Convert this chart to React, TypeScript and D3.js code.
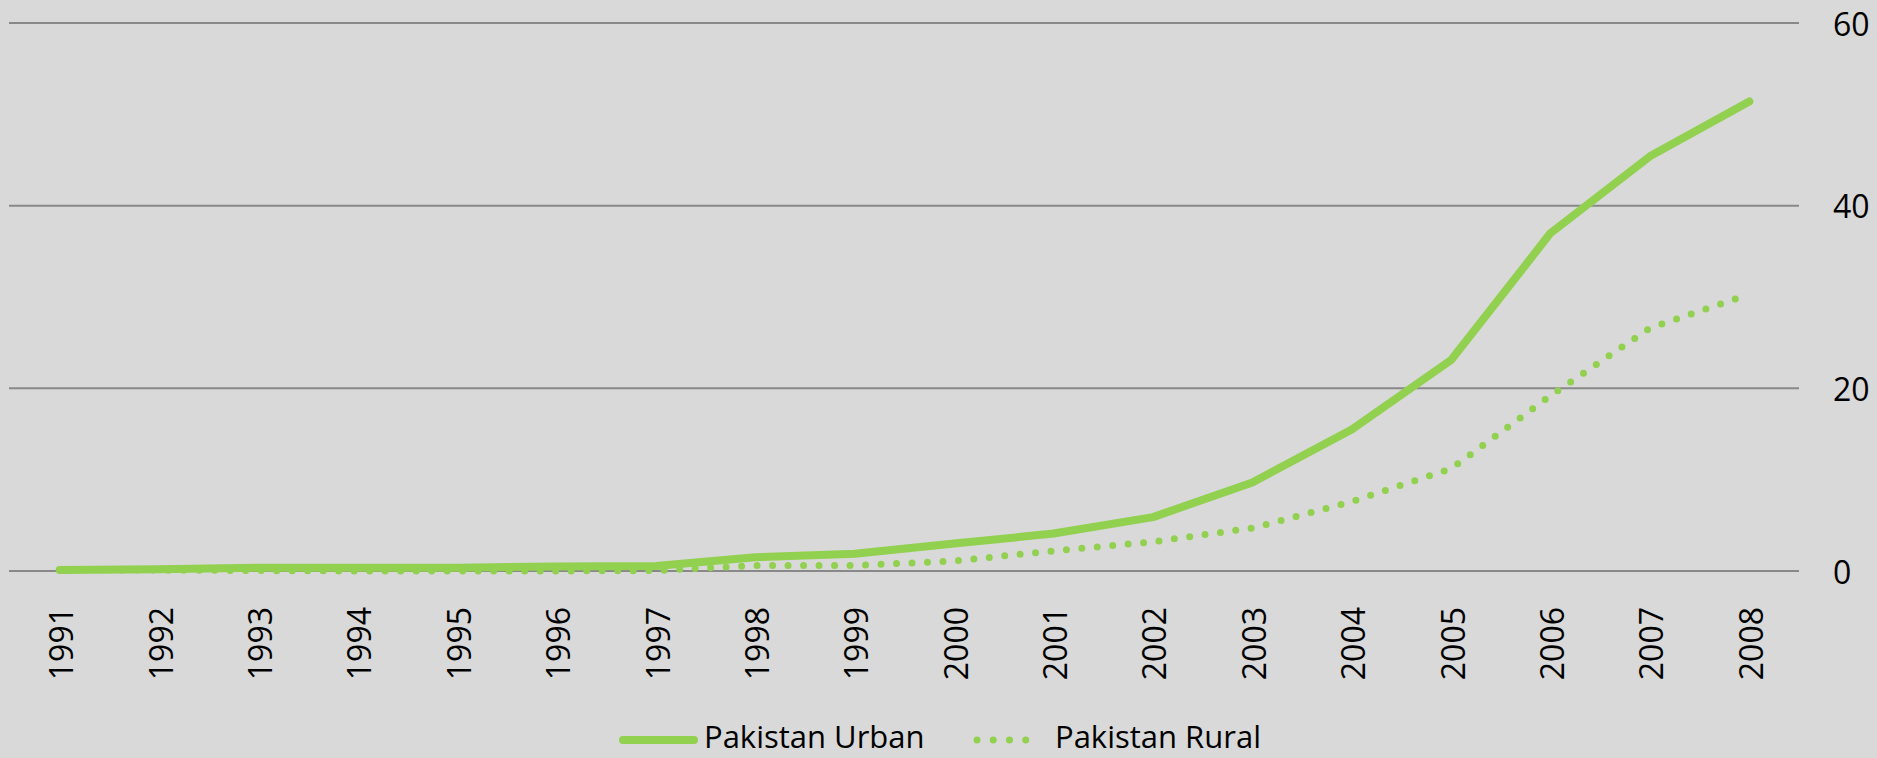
import React from 'react';
import * as d3 from 'd3';

// values
const years = ['1991', '1992', '1993', '1994', '1995', '1996', '1997', '1998', '1999',
  '2000', '2001', '2002', '2003', '2004', '2005', '2006', '2007', '2008'];
const urban = [0.1, 0.2, 0.35, 0.35, 0.35, 0.5, 0.55, 1.5, 1.9, 3.0, 4.1, 5.9, 9.7, 15.5, 23.1, 37.0, 45.4, 51.4];
const rural = [0.15, 0.1, 0.05, 0, 0, 0, 0.05, 0.6, 0.6, 1.1, 2.2, 3.2, 4.7, 7.6, 11.2, 19.2, 26.6, 30.3];
const yTicks = [0, 20, 40, 60];
const seriesNames = ['Pakistan Urban', 'Pakistan Rural'];

const W = 1877;
const H = 758;
const GREEN = '#92D050';
const FONT = '"Open Sans", sans-serif';

const App = () => {
  const x = d3.scaleBand<string>().domain(years).range([10, 1799]).padding(0);
  const y = d3.scaleLinear().domain([0, 60]).range([571, 23]);
  const cx = (yr: string) => (x(yr) as number) + x.bandwidth() / 2;

  const line = d3.line<number>()
    .x((_, i) => cx(years[i]))
    .y((d) => y(d));

  return (
    <div style={{ position: 'absolute', left: 0, top: 0 }}>
      <svg width={W} height={H} style={{ display: 'block' }}>
        <rect width={W} height={H} fill="#D9D9D9" />

        {/* gridlines */}
        {yTicks.map((t) => (
          <line key={t} x1={9} x2={1799} y1={y(t)} y2={y(t)} stroke="#898989" strokeWidth={2} />
        ))}

        {/* y labels on the right */}
        {yTicks.map((t) => (
          <text key={'l' + t} x={1833} y={y(t)} dominantBaseline="central" fontFamily={FONT}
            fontSize={32} fill="#000">{t}</text>
        ))}

        {/* x labels, rotated */}
        {years.map((yr) => (
          <text key={yr} transform={`translate(${cx(yr) + 1},607) rotate(-90)`} textAnchor="end"
            dominantBaseline="central" fontFamily={FONT} fontSize={32} fill="#000">{yr}</text>
        ))}

        {/* series */}
        <path d={line(rural) as string} fill="none" stroke={GREEN} strokeWidth={7}
          strokeLinecap="round" strokeDasharray="0 15.5" />
        <path d={line(urban) as string} fill="none" stroke={GREEN} strokeWidth={8}
          strokeLinejoin="round" strokeLinecap="round" />

        {/* legend */}
        <line x1={623} x2={694} y1={740} y2={740} stroke={GREEN} strokeWidth={8} strokeLinecap="round" />
        <text x={704} y={748} fontFamily={FONT} fontSize={31} fill="#000">{seriesNames[0]}</text>
        <line x1={977} x2={1042} y1={740} y2={740} stroke={GREEN} strokeWidth={7} strokeLinecap="round"
          strokeDasharray="0 16.25" />
        <text x={1055} y={748} fontFamily={FONT} fontSize={31} fill="#000">{seriesNames[1]}</text>
      </svg>
    </div>
  );
};

export default App;
